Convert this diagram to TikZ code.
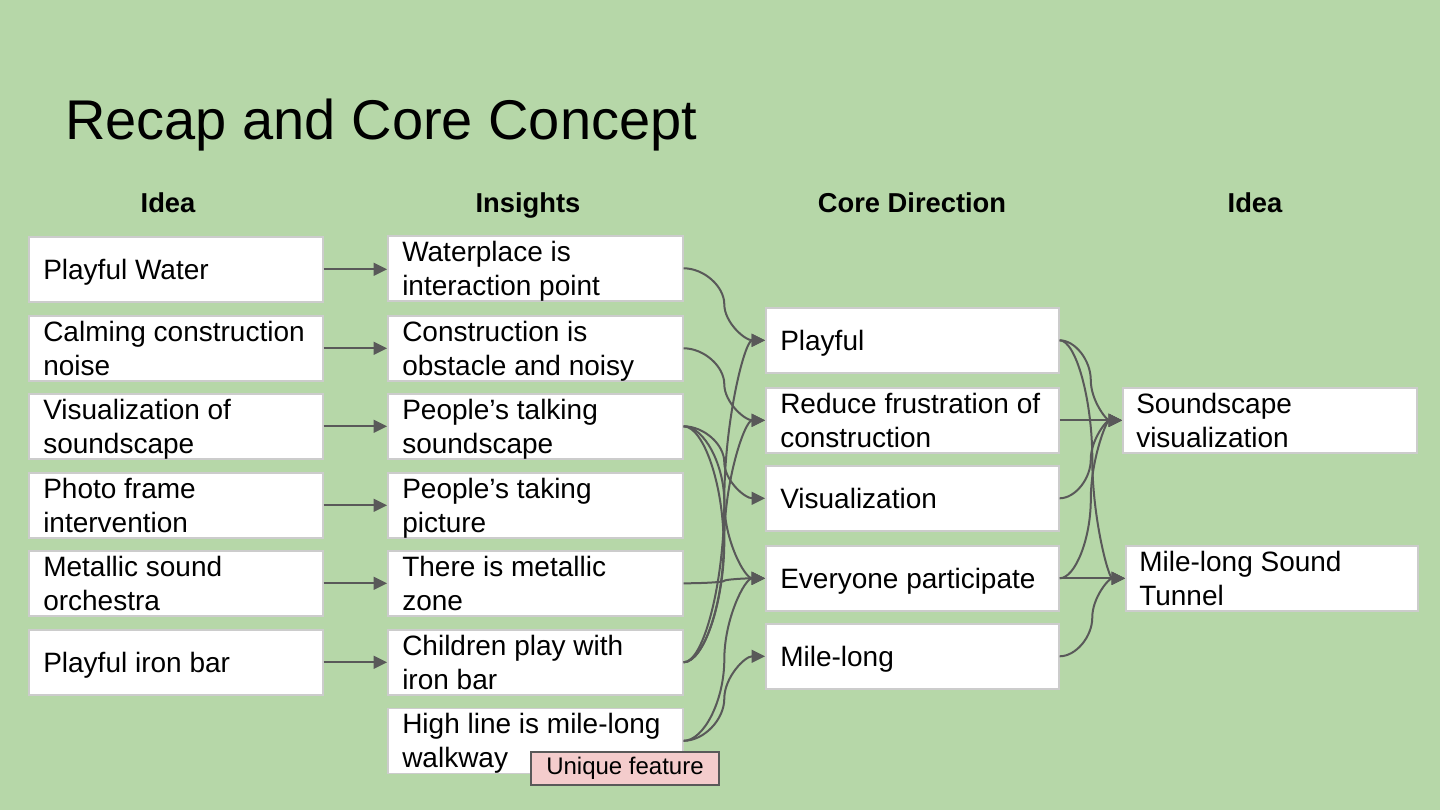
\documentclass[tikz,border=0pt]{standalone}
\usepackage{fontspec}
\setmainfont{Liberation Sans}
\usetikzlibrary{arrows.meta,calc}
\definecolor{slidebg}{HTML}{B6D7A8}
\definecolor{edge}{HTML}{595959}
\definecolor{frame}{HTML}{CCCCCC}
\definecolor{tag}{HTML}{F4CCCC}
% struts giving every box text the same vertical balance
\newcommand\topstrut{\rule{0pt}{19pt}}
\newcommand\botstrut{\rule[-4pt]{0pt}{4pt}}
% white box #2 at (#3,#4), #5 wide, with left-aligned text #6 (node #2t)
\newcommand\slidecard[6][11.25pt]{%
  \node[cardbox, minimum width=#5] (#2) at (#3,#4) {};
  \node[cardtext] (#2t) at ([xshift=#1]#2.west) {\topstrut#6\botstrut};}
\begin{document}
\begin{tikzpicture}[x=0.75pt,y=-0.75pt,
  cardbox/.style={draw=frame, line width=1.2pt, fill=white, anchor=north west,
    inner sep=0pt, minimum height=48.75pt},
  cardtext/.style={anchor=west, align=left, inner sep=0pt,
    font=\fontsize{21}{25.5}\selectfont},
  head/.style={font=\bfseries\fontsize{20.5}{24}\selectfont, anchor=base, inner sep=0pt},
  wire/.style={draw=edge, line width=1.5pt},
  link/.style={wire, -{Triangle[length=10pt,width=9.5pt]}},
  % S-shaped connector: two cubic pieces meeting at the midpoint
  sconn/.style={to path={
    let \p1=(\tikztostart), \p2=(\tikztotarget),
        \n1={0.5*(\x1+\x2)}, \n2={0.5*(\y1+\y2)},
        \n3={0.5*(\x1+\n1)}, \n4={0.5*(\y1+\n2)},
        \n5={0.5*(\n2+\y2)}, \n6={0.5*(\n1+\x2)} in
    .. controls (\n3,\y1) and (\n1,\n4) .. (\n1,\n2)
    .. controls (\n1,\n5) and (\n6,\y2) .. (\tikztotarget)}},
  % bracket-shaped connector bulging out to the right by #1
  bconn/.style={to path={
    let \p1=(\tikztostart), \p2=(\tikztotarget),
        \n1={\x1+#1}, \n2={0.5*(\y1+\y2)},
        \n3={\x1+0.5*#1}, \n4={0.5*(\y1+\n2)},
        \n5={0.5*(\n2+\y2)} in
    .. controls (\n3,\y1) and (\n1,\n4) .. (\n1,\n2)
    .. controls (\n1,\n5) and (\n3,\y2) .. (\tikztotarget)}}
]
\fill[slidebg] (0,0) rectangle (1440,810);
\useasboundingbox (0,0) rectangle (1440,810);

\node[anchor=base west, inner sep=0pt, font=\fontsize{42}{50}\selectfont] (title) at (65,139) {Recap and Core Concept};

\node[head] (h1) at (168,212) {Idea};
\node[head] (h2) at (528,212) {Insights};
\node[head] (h3) at (912,212) {Core Direction};
\node[head] (h4) at (1255,212) {Idea};

% ideas
\slidecard{i1}{28}{236}{220.5pt}{Playful Water}
\slidecard{i2}{28}{315}{220.5pt}{Calming construction\\noise}
\slidecard{i3}{28}{393}{220.5pt}{Visualization of\\soundscape}
\slidecard{i4}{28}{472}{220.5pt}{Photo frame\\intervention}
\slidecard{i5}{28}{550}{220.5pt}{Metallic sound\\orchestra}
\slidecard{i6}{28}{629}{220.5pt}{Playful iron bar}

% insights
\slidecard{n1}{387}{235}{221.25pt}{Waterplace is\\interaction point}
\slidecard{n2}{387}{315}{221.25pt}{Construction is\\obstacle and noisy}
\slidecard{n3}{387}{393}{221.25pt}{People’s talking\\soundscape}
\slidecard{n4}{387}{472}{221.25pt}{People’s taking\\picture}
\slidecard{n5}{387}{550}{221.25pt}{There is metallic\\zone}
\slidecard{n6}{387}{629}{221.25pt}{Children play with\\iron bar}
\slidecard{n7}{387}{707.5}{221.25pt}{High line is mile-long\\walkway}

% core directions
\slidecard{c1}{765}{307}{219.75pt}{Playful}
\slidecard{c2}{765}{387}{219.75pt}{Reduce frustration of\\construction}
\slidecard{c3}{765}{465}{219.75pt}{Visualization}
\slidecard{c4}{765}{545}{219.75pt}{Everyone participate}
\slidecard{c5}{765}{623}{219.75pt}{Mile-long}

% resulting ideas
\slidecard[10.5pt]{d1}{1122}{387}{220.5pt}{Soundscape\\visualization}
\slidecard[10.5pt]{d2}{1125}{545}{219pt}{Mile-long Sound\\Tunnel}

% idea -> insight
\foreach \a/\b in {i1/n1,i2/n2,i3/n3,i4/n4,i5/n5,i6/n6}
  \draw[link] (\a.east) -- (\a.east -| \b.west);

% insight -> core direction
\foreach \a/\b in {n1/c1,n2/c2,n3/c3,n3/c4,n5/c4,n6/c1,n6/c2,n7/c4,n7/c5}
  \draw[link] (\a.east) to[sconn] (\b.west);

% plain bracket joining two insights
\draw[wire] (n3.east) to[bconn=30pt] (n6.east);

% core direction -> idea
\foreach \a/\b in {c1/d1,c1/d2,c2/d1,c3/d1,c4/d1,c4/d2,c5/d2}
  \draw[link] (\a.east) to[sconn] (\b.west);

\node[draw=edge, fill=tag, line width=1.5pt, anchor=north west, inner sep=0pt,
  minimum width=141pt, minimum height=24.75pt, font=\fontsize{18}{21}\selectfont]
  (uf) at (530,751) {Unique feature};
\end{tikzpicture}
\end{document}
